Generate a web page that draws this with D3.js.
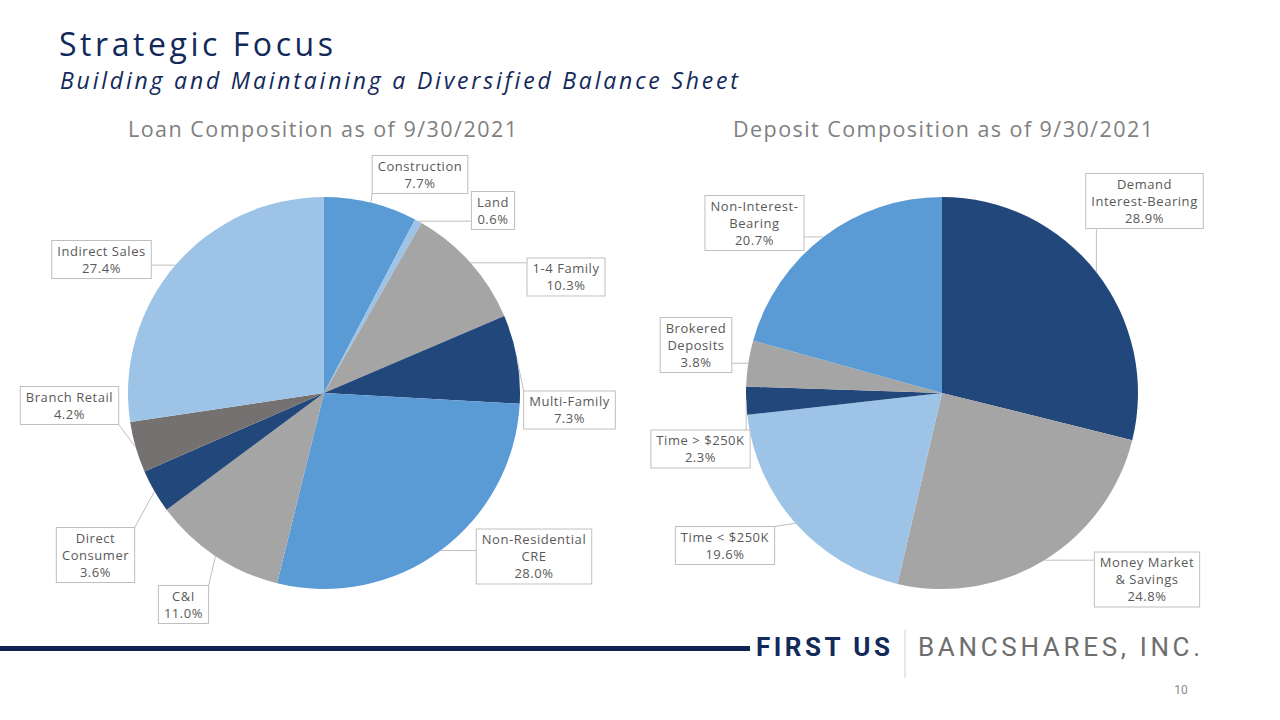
<!DOCTYPE html>
<html>
<head>
<meta charset="utf-8">
<script src="https://cdn.jsdelivr.net/npm/d3@7"></script>
<style>
  html, body { margin: 0; padding: 0; background: #ffffff; }
  svg { display: block; }
</style>
</head>
<body>
<svg id="chart" width="1280" height="720"></svg>
<script>
// ---------- DATA ----------
const loanCategories = ["Construction", "Land", "1-4 Family", "Multi-Family", "Non-Residential\nCRE", "C&I", "Direct\nConsumer", "Branch Retail", "Indirect Sales"];
const loanValues = [7.7, 0.6, 10.3, 7.3, 28.0, 11.0, 3.6, 4.2, 27.4];

const depositCategories = ["Demand\nInterest-Bearing", "Money Market\n& Savings", "Time < $250K", "Time > $250K", "Brokered\nDeposits", "Non-Interest-\nBearing"];
const depositValues = [28.9, 24.8, 19.6, 2.3, 3.8, 20.7];

// ---------- STYLE / LAYOUT ----------
const loanColors = ["#5B9BD5", "#9DC3E6", "#A5A5A5", "#21477B", "#5B9BD5", "#A5A5A5", "#21477B", "#767171", "#9DC3E6"];
const depositColors = ["#21477B", "#A5A5A5", "#9DC3E6", "#21477B", "#A5A5A5", "#5B9BD5"];
// label box centres (layout)
const loanLabelPos = [[420,174.5],[493,210.5],[566,277],[569.5,410],[534,556.5],[183.5,604.5],[95.5,555],[69.5,405.5],[101.5,259.5]];
const depositLabelPos = [[1144.5,201],[1147,579.5],[725,545.5],[700.5,449],[696,345],[754.5,223]];

const FONT = "'Century Gothic', 'Open Sans', 'DejaVu Sans', sans-serif";
const svg = d3.select("#chart");

// stretch text to a target width via letter-spacing
function fit(sel, target) {
  const n = sel.text().length;
  const len = sel.node().getComputedTextLength();
  sel.attr("letter-spacing", ((target - len) / (n - 1)).toFixed(2));
  return sel;
}

// ---------- TITLES ----------
fit(svg.append("text").attr("x", 59).attr("y", 56)
  .attr("font-family", FONT).attr("font-size", 32).attr("fill", "#12295A")
  .text("Strategic Focus"), 274);
fit(svg.append("text").attr("x", 60).attr("y", 89)
  .attr("font-family", FONT).attr("font-size", 23).attr("font-style", "italic").attr("fill", "#12295A")
  .text("Building and Maintaining a Diversified Balance Sheet"), 678);

const t1 = svg.append("text").attr("x", 128).attr("y", 137)
  .attr("font-family", FONT).attr("font-size", 21.5).attr("fill", "#7F7F7F")
  .text("Loan Composition as of 9/30/2021");
fit(t1, 389);
const t2 = svg.append("text").attr("x", 733).attr("y", 137)
  .attr("font-family", FONT).attr("font-size", 21.5).attr("fill", "#7F7F7F")
  .text("Deposit Composition as of 9/30/2021");
fit(t2, 420);

// ---------- PIE ----------
function drawPie(cx, cy, r, cats, vals, colors, labelPos) {
  const pie = d3.pie().sort(null).value(d => d.v);
  const data = pie(cats.map((c, i) => ({ c, v: vals[i], i })));
  const arc = d3.arc().innerRadius(0).outerRadius(r);
  const g = svg.append("g").attr("transform", `translate(${cx},${cy})`);
  g.selectAll("path").data(data).enter().append("path")
    .attr("d", arc)
    .attr("fill", d => colors[d.data.i]);

  const lg = svg.append("g");
  data.forEach(d => {
    const [lx, ly] = labelPos[d.data.i];
    const lines = (d.data.c + "\n" + d.data.v.toFixed(1) + "%").split("\n");
    const lh = 17;
    const tg = lg.append("g");
    const t = tg.append("text")
      .attr("font-family", FONT).attr("font-size", 13).attr("fill", "#595959")
      .attr("letter-spacing", 0.55)
      .attr("text-anchor", "middle");
    const y0 = ly - (lines.length - 1) * lh / 2 + 4.5;
    lines.forEach((s, k) => {
      t.append("tspan").attr("x", lx).attr("y", y0 + k * lh).text(s);
    });
    const bb = t.node().getBBox();
    const w = bb.width + 11, h = lines.length * lh + 4;
    const bx = lx - w / 2, by = ly - h / 2;
    // leader line
    const mid = (d.startAngle + d.endAngle) / 2;
    const px = cx + r * Math.sin(mid), py = cy - r * Math.cos(mid);
    const qx = Math.max(bx, Math.min(bx + w, px));
    const qy = Math.max(by, Math.min(by + h, py));
    lg.insert("line", ":first-child")
      .attr("x1", px).attr("y1", py).attr("x2", qx).attr("y2", qy)
      .attr("stroke", "#BFBFBF").attr("stroke-width", 1);
    tg.insert("rect", "text")
      .attr("x", bx).attr("y", by).attr("width", w).attr("height", h)
      .attr("fill", "#ffffff").attr("stroke", "#BFBFBF").attr("stroke-width", 1);
  });
}

drawPie(324, 393, 196, loanCategories, loanValues, loanColors, loanLabelPos);
drawPie(942, 393, 196, depositCategories, depositValues, depositColors, depositLabelPos);

// ---------- FOOTER ----------
svg.append("rect").attr("x", 0).attr("y", 646).attr("width", 750).attr("height", 5).attr("fill", "#0F2452");
fit(svg.append("text").attr("x", 756).attr("y", 656)
  .attr("font-family", "'Roboto', 'Liberation Sans', sans-serif").attr("font-weight", "bold")
  .attr("font-size", 26).attr("fill", "#12295A")
  .text("FIRST US"), 134);
svg.append("line").attr("x1", 905).attr("x2", 905).attr("y1", 630).attr("y2", 678)
  .attr("stroke", "#D0D0D0").attr("stroke-width", 1);
fit(svg.append("text").attr("x", 918).attr("y", 656)
  .attr("font-family", "'Roboto', 'Liberation Sans', sans-serif")
  .attr("font-size", 26).attr("fill", "#6E6E6E")
  .text("BANCSHARES, INC."), 282);
svg.append("text").attr("x", 1181).attr("y", 694).attr("text-anchor", "middle")
  .attr("font-family", "'Liberation Sans Narrow', 'Roboto', sans-serif")
  .attr("font-size", 12).attr("fill", "#8C8C8C")
  .text("10");
</script>
</body>
</html>
